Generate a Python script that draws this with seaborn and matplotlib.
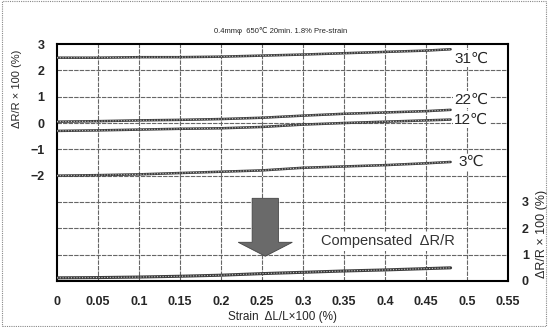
import numpy as np
import pandas as pd
import matplotlib
matplotlib.use("Agg")
import matplotlib.pyplot as plt
import seaborn as sns
from matplotlib.patches import FancyArrow, Rectangle

sns.set_style("white")
plt.rcParams['font.family'] = ['Liberation Sans', 'DejaVu Sans']

# ---- data ----
strain = [0.0, 0.05, 0.10, 0.15, 0.20, 0.25, 0.30, 0.35, 0.40, 0.45, 0.48]
r31 = [2.48, 2.48, 2.50, 2.50, 2.52, 2.56, 2.60, 2.65, 2.70, 2.75, 2.80]
r22 = [0.05, 0.07, 0.10, 0.12, 0.15, 0.20, 0.28, 0.35, 0.40, 0.45, 0.50]
r12 = [-0.30, -0.28, -0.25, -0.22, -0.20, -0.15, -0.06, 0.00, 0.05, 0.10, 0.13]
r3 = [-2.00, -1.98, -1.95, -1.90, -1.85, -1.80, -1.70, -1.65, -1.60, -1.53, -1.48]
comp = [0.12, 0.13, 0.15, 0.18, 0.22, 0.28, 0.33, 0.38, 0.42, 0.47, 0.50]

temps = ["31℃", "22℃", "12℃", "3℃"]
label_y = [2.45, 0.88, 0.12, -1.49]
xticks = [0, 0.05, 0.1, 0.15, 0.2, 0.25, 0.3, 0.35, 0.4, 0.45, 0.5, 0.55]
xticklabels = ["0", "0.05", "0.1", "0.15", "0.2", "0.25", "0.3", "0.35", "0.4", "0.45", "0.5", "0.55"]
left_ticks = [-2, -1, 0, 1, 2, 3]
right_ticks = [0, 1, 2, 3]

df = pd.DataFrame({
    "strain": strain * 4,
    "dR": r31 + r22 + r12 + r3,
    "temp": sum([[t] * len(strain) for t in temps], []),
})
dfc = pd.DataFrame({"strain": strain, "dR": comp})

fig = plt.figure(figsize=(5.48, 3.27), dpi=100)
ax = fig.add_axes([0.104, 0.1407, 0.823, 0.7247])

# grid
for xv in xticks[1:-1]:
    ax.axvline(xv, color="#666666", lw=0.8, ls=(0, (4, 1)), zorder=0)
for yv in range(-5, 3):
    ax.axhline(yv, color="#666666", lw=0.8, ls=(0, (4, 1)), zorder=0)

pal = {t: "#3c3c3c" for t in temps}
sns.lineplot(data=df, x="strain", y="dR", hue="temp", palette=pal, ax=ax,
             lw=1.8, legend=False, zorder=3)
sns.lineplot(data=df, x="strain", y="dR", hue="temp", palette={t: "#c8c8c8" for t in temps},
             ax=ax, lw=0.8, ls=(0, (1, 1.5)), legend=False, zorder=4)

ax.set_xlim(0, 0.55)
ax.set_ylim(-6, 3)
ax.set_xticks(xticks)
ax.set_xticklabels(xticklabels, fontsize=9, fontweight="bold")
ax.set_yticks(left_ticks)
ax.set_yticklabels(["\u22122", "\u22121", "0", "1", "2", "3"], fontsize=9, fontweight="bold")
ax.tick_params(axis="x", length=0, pad=11)
ax.tick_params(axis="y", length=0, pad=9)
ax.set_xlabel("Strain  ΔL/L×100 (%)", fontsize=8.5, va="top")
ax.xaxis.set_label_coords(0.5, -0.128)
ax.set_ylabel("ΔR/R × 100 (%)", fontsize=8)
ax.yaxis.set_label_coords(-0.078, 0.81)
for s in ax.spines.values():
    s.set_color("black")
    s.set_linewidth(1.5)

# temperature labels
for t, yv in zip(temps, label_y):
    ax.text(0.505, yv, t, fontsize=11, ha="center", va="center",
            bbox=dict(facecolor="white", edgecolor="none", pad=1.0), zorder=5)

# arrow
arrow = FancyArrow(0.254, -2.86, 0, -2.2, width=0.032, head_width=0.066,
                   head_length=0.53, length_includes_head=True,
                   facecolor="#6a6a6a", edgecolor="#444444", lw=0.6, zorder=6)
ax.add_patch(arrow)
ax.text(0.403, -4.5, "Compensated  ΔR/R", fontsize=10.5, ha="center", va="center",
        color="#333333", bbox=dict(facecolor="white", edgecolor="none", pad=1.5), zorder=5)

# right axis
ax2 = ax.twinx()
ax2.set_ylim(0, 9)
sns.lineplot(data=dfc, x="strain", y="dR", ax=ax2, color="#3c3c3c", lw=2.2, zorder=3)
sns.lineplot(data=dfc, x="strain", y="dR", ax=ax2, color="#c8c8c8", lw=0.8,
             ls=(0, (1, 1.5)), zorder=4)
ax2.set_yticks(right_ticks)
ax2.set_yticklabels([str(v) for v in right_ticks], fontsize=9, fontweight="bold")
ax2.tick_params(length=0, pad=10)
ax2.set_ylabel("ΔR/R × 100 (%)", fontsize=9, rotation=90)
ax2.yaxis.set_label_coords(1.062, 0.2)
ax2.set_xlim(0, 0.55)
for s in ax2.spines.values():
    s.set_visible(False)

fig.text(0.512, 0.905, "0.4mmφ  650℃ 20min. 1.8% Pre-strain", fontsize=5.5,
         ha="center", va="center", family=["Liberation Sans", "DejaVu Sans"])

# dotted outer frame
fig.patches.append(Rectangle((0.004, 0.004), 0.992, 0.992, transform=fig.transFigure,
                             fill=False, ls=(0, (1, 1)), lw=0.8, edgecolor="#888888"))

fig.savefig("out.png", dpi=100)
